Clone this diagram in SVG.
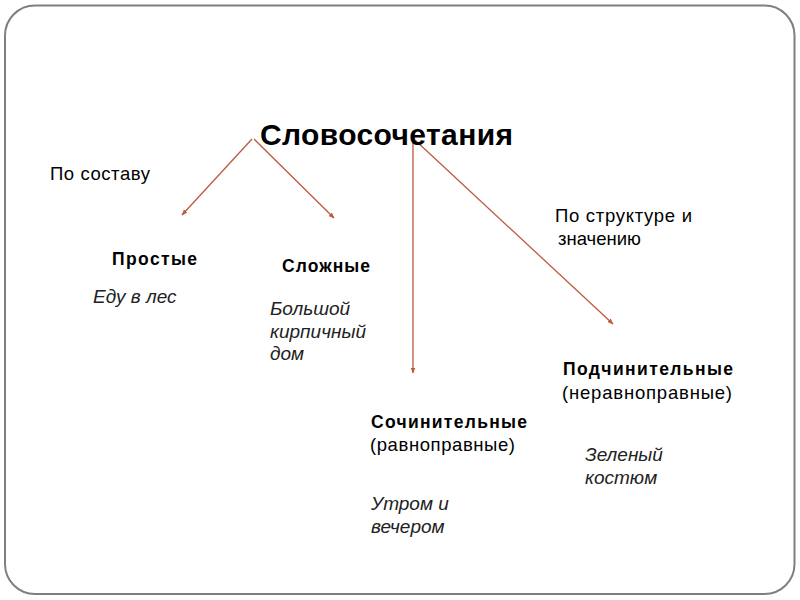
<svg xmlns="http://www.w3.org/2000/svg" width="800" height="600" viewBox="0 0 800 600">
<defs>
<style>
text{font-family:"Liberation Sans",Arial,sans-serif;fill:#000;font-size:18.5px}
.t{font-size:30px;font-weight:bold}
.b{font-weight:bold;font-size:17.5px}
.i{font-style:italic;fill:#222;font-size:19px}
.c{stroke:#bd5a3c;stroke-width:1.3;fill:none;marker-end:url(#ah)}
</style>
<marker id="ah" viewBox="0 0 10 10" refX="9" refY="5" markerWidth="6" markerHeight="6" orient="auto" markerUnits="userSpaceOnUse">
<path d="M0,1 L10,5 L0,9 Z" fill="#bd5a3c"/>
</marker>
</defs>
<rect x="5" y="5.5" width="789.5" height="588.5" rx="30" ry="30" fill="#fff" stroke="#7f7f7f" stroke-width="2"/>
<g id="connectors">
<line class="c" x1="252" y1="139" x2="182" y2="215"/>
<line class="c" x1="254" y1="139" x2="334" y2="218"/>
<line class="c" x1="413" y1="140" x2="413" y2="373"/>
<line class="c" x1="415" y1="140" x2="613" y2="324"/>
</g>
<g id="root"><text class="t" x="260" y="145" textLength="253" lengthAdjust="spacing">Словосочетания</text></g>
<g id="label-sostav"><text x="50" y="180" textLength="100" lengthAdjust="spacing">По составу</text></g>
<g id="label-struktura">
<text x="555" y="222" textLength="137" lengthAdjust="spacing">По структуре и</text>
<text x="558" y="245">значению</text>
</g>
<g id="prostye">
<text class="b" x="112" y="265" textLength="85" lengthAdjust="spacing">Простые</text>
<text class="i" x="93" y="303">Еду в лес</text>
</g>
<g id="slozhnye">
<text class="b" x="282" y="272" textLength="88" lengthAdjust="spacing">Сложные</text>
<text class="i" x="270" y="315">Большой</text>
<text class="i" x="270" y="338">кирпичный</text>
<text class="i" x="270" y="360">дом</text>
</g>
<g id="sochinitelnye">
<text class="b" x="371" y="428" textLength="156" lengthAdjust="spacing">Сочинительные</text>
<text x="370" y="451" textLength="145" lengthAdjust="spacing">(равноправные)</text>
<text class="i" x="371" y="510">Утром и</text>
<text class="i" x="371" y="533">вечером</text>
</g>
<g id="podchinitelnye">
<text class="b" x="563" y="375" textLength="170" lengthAdjust="spacing">Подчинительные</text>
<text x="562" y="399" textLength="170" lengthAdjust="spacing">(неравноправные)</text>
<text class="i" x="585" y="461">Зеленый</text>
<text class="i" x="585" y="484">костюм</text>
</g>
</svg>
